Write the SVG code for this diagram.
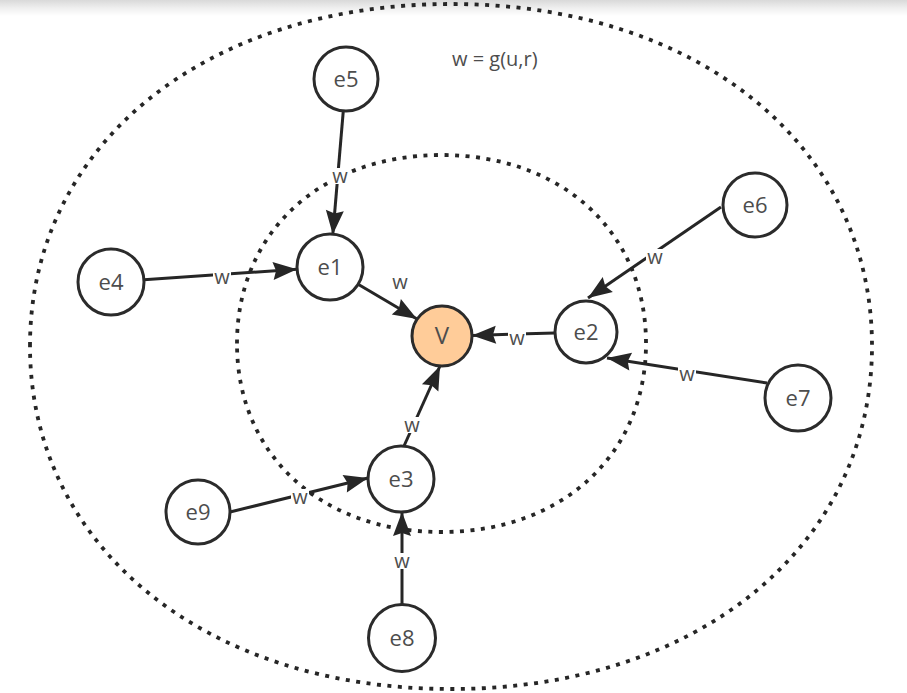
<svg xmlns="http://www.w3.org/2000/svg" width="907" height="693" viewBox="0 0 907 693">
<defs>
<linearGradient id="topbar" x1="0" y1="0" x2="0" y2="1">
<stop offset="0" stop-color="#d9d9d9"/>
<stop offset="0.5" stop-color="#efefef"/>
<stop offset="1" stop-color="#ffffff"/>
</linearGradient>
<marker id="arr" markerUnits="userSpaceOnUse" markerWidth="25" markerHeight="18" refX="24" refY="9" orient="auto" overflow="visible">
<path d="M0,0 L24,9 L0,18 L3,9 Z" fill="#262626"/>
</marker>
<style>
.bound{fill:none;stroke:#262626;stroke-width:3.8;stroke-dasharray:4 6.5}
.node circle{fill:#ffffff;stroke:#2b2b2b;stroke-width:3}
.node text{font-family:"Open Sans","Noto Sans",sans-serif;font-size:22px;fill:#4d4d4d;text-anchor:middle}
.edge{stroke:#262626;stroke-width:3;fill:none;marker-end:url(#arr)}
.lbl rect{fill:#ffffff}
.lbl text{font-family:"Open Sans","Noto Sans",sans-serif;font-size:20px;fill:#4d4d4d;text-anchor:middle}
.title{font-family:"Open Sans","Noto Sans",sans-serif;font-size:20px;fill:#4d4d4d}
</style>
</defs>
<rect x="0" y="0" width="907" height="693" fill="#ffffff"/>
<rect x="0" y="0" width="907" height="16" fill="url(#topbar)"/>

<g id="boundaries">
<path id="outer-region" class="bound" d="M30,346 C30,145.3 204.7,4 451,4 C697.3,4 872,145.3 872,346 C872,546.7 697.3,689 451,689 C204.7,689 30,546.7 30,346 Z"/>
<path id="inner-region" class="bound" d="M237,343.5 C237,232.3 320.8,155 441.5,155 C562.2,155 646,232.3 646,343.5 C646,454.7 562.2,532 441.5,532 C320.8,532 237,454.7 237,343.5 Z"/>
</g>

<text class="title" x="452" y="66">w = g(u,r)</text>

<g id="connectors">
<line class="edge" x1="343.3" y1="110.9" x2="332.8" y2="234.5"/>
<line class="edge" x1="143.9" y1="279.7" x2="297" y2="269.3"/>
<line class="edge" x1="358.1" y1="284.3" x2="417" y2="319"/>
<line class="edge" x1="555" y1="332.9" x2="472" y2="335.5"/>
<line class="edge" x1="404" y1="446" x2="440" y2="366"/>
<line class="edge" x1="721" y1="207" x2="588" y2="298"/>
<line class="edge" x1="767" y1="383" x2="607" y2="358"/>
<line class="edge" x1="230" y1="512" x2="368" y2="478"/>
<line class="edge" x1="402" y1="605" x2="402" y2="512"/>
<g class="lbl">
<rect x="331" y="168" width="18" height="16"/><text x="340" y="183">w</text>
<rect x="213" y="269" width="18" height="16"/><text x="222" y="284">w</text>
<text x="400" y="289">w</text>
<rect x="508" y="330" width="18" height="16"/><text x="517" y="345">w</text>
<rect x="403" y="417" width="18" height="16"/><text x="412" y="432">w</text>
<rect x="646" y="249" width="18" height="16"/><text x="655" y="264">w</text>
<rect x="678" y="366" width="18" height="16"/><text x="687" y="381">w</text>
<rect x="291" y="489" width="18" height="16"/><text x="300" y="504">w</text>
<rect x="393" y="553" width="18" height="16"/><text x="402" y="568">w</text>
</g>
</g>

<g id="node-V" class="node"><circle cx="442" cy="336" r="30" style="fill:#ffcc99"/><text x="442" y="344" style="font-size:24px">V</text></g>
<g id="node-e1" class="node"><circle cx="330" cy="267" r="33"/><text x="330" y="275">e1</text></g>
<g id="node-e2" class="node"><circle cx="586" cy="332" r="31"/><text x="586" y="340">e2</text></g>
<g id="node-e3" class="node"><circle cx="401" cy="479" r="33"/><text x="401" y="487">e3</text></g>
<g id="node-e4" class="node"><circle cx="111" cy="282" r="33"/><text x="111" y="290">e4</text></g>
<g id="node-e5" class="node"><circle cx="346" cy="79" r="32"/><text x="346" y="87">e5</text></g>
<g id="node-e6" class="node"><circle cx="755" cy="205" r="32"/><text x="755" y="213">e6</text></g>
<g id="node-e7" class="node"><circle cx="798" cy="398" r="33"/><text x="798" y="406">e7</text></g>
<g id="node-e8" class="node"><circle cx="402" cy="638" r="33.5"/><text x="402" y="646">e8</text></g>
<g id="node-e9" class="node"><circle cx="198" cy="512" r="32"/><text x="198" y="520">e9</text></g>
</svg>
